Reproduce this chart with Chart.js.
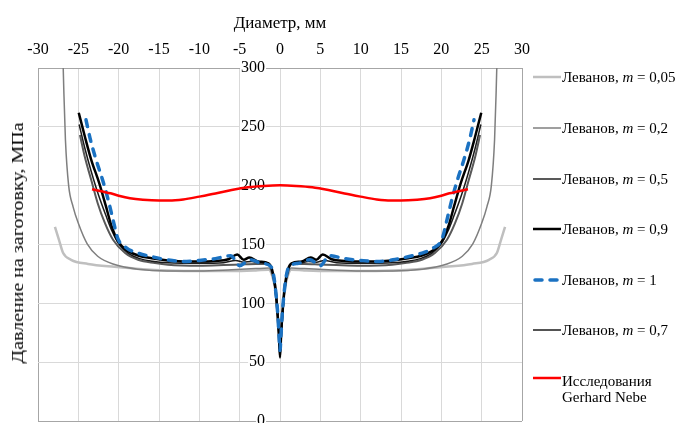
<!DOCTYPE html>
<html>
<head>
<meta charset="utf-8">
<script src="https://cdn.jsdelivr.net/npm/chart.js@4.4.1/dist/chart.umd.min.js"></script>
<style>
body { margin: 0; background: #fff; }
#wrap { position: relative; width: 684px; height: 423px; overflow: hidden; font-family: "Liberation Serif", "Times New Roman", serif; color: #000; }
#c { position: absolute; left: 0; top: 0; }
#yTitle { position: absolute; left: 18px; top: 243px; transform: translate(-50%, -50%) rotate(-90deg) scaleX(1.25); white-space: nowrap; font-size: 16px; }
.leg { position: absolute; left: 533px; height: 16px; font-size: 15px; line-height: 16px; white-space: nowrap; }
.leg svg { position: absolute; left: 0; top: 3px; }
.leg span { position: absolute; left: 29px; top: 0; }
</style>
</head>
<body>
<div id="wrap">
  <canvas id="c" width="684" height="423"></canvas>
  <div id="yTitle">Давление на заготовку, МПа</div>
</div>
<script>
var xTitle = "Диаметр, мм";
var mValues = ["0,05", "0,2", "0,5", "0,9", "1", "0,7"];
var nebeLabel = ["Исследования", "Gerhard Nebe"];

// Леванов, m = 0,05
var x005 = [-27.9, -27.4, -26.9, -25.9, -23.8, -20.5, -17, -14, -10, -6, -3, -1.4, -1, -0.6, -0.35, -0.15, 0,
    0.15, 0.35, 0.6, 1, 1.4, 3, 6, 10, 14, 17, 20.5, 23.8, 25.9, 26.9, 27.4, 27.9];
var y005 = [165, 154, 143, 137, 133.5, 131, 129, 128, 127.5, 127.5, 128, 128.5, 124, 112, 95, 76, 60,
    76, 95, 112, 124, 128.5, 128, 127.5, 127.5, 128, 129, 131, 133.5, 137, 143, 154, 165];

// Леванов, m = 0,2
var x02 = [-26.95, -26.8, -26.6, -26.2, -25.65, -25, -23.9, -22.6, -20.5, -17.6, -14, -10, -6, -3, -1.4, -1, -0.6, -0.35, -0.15, 0,
    0.15, 0.35, 0.6, 1, 1.4, 3, 6, 10, 14, 17.6, 20.5, 22.6, 23.9, 25, 25.65, 26.2, 26.6, 26.8, 26.95];
var y02 = [320, 281, 239, 200, 182, 168, 150.5, 140, 133, 129, 127.5, 127.5, 128.5, 129.5, 130, 125, 112, 95, 75, 57,
    75, 95, 112, 125, 130, 129.5, 128.5, 127.5, 127.5, 129, 133, 140, 150.5, 168, 182, 200, 239, 281, 320];

// Леванов, m = 0,5
var x05 = [-24.8, -24.2, -23.4, -22.6, -21.7, -20.7, -19.2, -17.6, -15.5, -13.9, -10, -7, -5, -3, -1.4, -1, -0.6, -0.35, -0.15, 0,
    0.15, 0.35, 0.6, 1, 1.4, 3, 5, 7, 10, 13.9, 15.5, 17.6, 19.2, 20.7, 21.7, 22.6, 23.4, 24.2, 24.8];
var y05 = [243, 224.6, 204.8, 185.1, 168.1, 154, 142.7, 137, 134.2, 132.8, 132, 132.5, 133, 133.5, 133.5, 127, 113, 95, 75, 56,
    75, 95, 113, 127, 133.5, 133.5, 133, 132.5, 132, 132.8, 134.2, 137, 142.7, 154, 168.1, 185.1, 204.8, 224.6, 243];

// Леванов, m = 0,9
var x09 = [-24.95, -24.2, -23.4, -22.4, -21.6, -20.9, -20.1, -19.1, -17.6, -15.9, -13.9, -10, -8, -6.4, -5.3, -4.5, -3.8, -2.7, -1.45, -1, -0.6, -0.35, -0.15, 0,
    0.15, 0.35, 0.6, 1, 1.45, 2.7, 3.8, 4.5, 5.3, 6.4, 8, 10, 13.9, 15.9, 17.6, 19.1, 20.1, 20.9, 21.6, 22.4, 23.4, 24.2, 24.95];
var y09 = [262, 242, 222, 202, 183, 166, 153, 145.5, 140.7, 138.3, 136.5, 135.5, 136, 137.5, 141.5, 137, 139, 135.6, 134, 129, 115, 96, 75, 54,
    75, 96, 115, 129, 134, 135.6, 139, 137, 141.5, 137.5, 136, 135.5, 136.5, 138.3, 140.7, 145.5, 153, 166, 183, 202, 222, 242, 262];

// Леванов, m = 1
var x1 = [-24.05, -23.5, -22.8, -22, -21.3, -20.7, -20.1, -19, -17.6, -16, -14, -12, -10, -8, -6.1, -5, -3.7, -2.3, -1.1, -0.75, -0.45, -0.25, -0.1, 0,
    0.1, 0.25, 0.45, 0.75, 1.1, 2.3, 3.7, 5, 6.1, 8, 10, 12, 14, 16, 17.6, 19, 20.1, 20.7, 21.3, 22, 22.8, 23.5, 24.05];
var y1 = [256, 239, 222, 205, 188, 171, 155, 147, 142.7, 139.8, 137, 135.6, 136.5, 138, 140.5, 132, 137, 134, 131, 122, 105, 88, 70, 60,
    70, 88, 105, 122, 131, 134, 137, 132, 140.5, 138, 136.5, 135.6, 137, 139.8, 142.7, 147, 155, 171, 188, 205, 222, 239, 256];

// Леванов, m = 0,7
var x07 = [-24.9, -24.2, -23.4, -22.5, -21.6, -20.8, -20, -18.8, -17.4, -15.8, -13.9, -10, -7, -5.5, -4.5, -3.5, -2.5, -1.4, -1, -0.6, -0.35, -0.15, 0,
    0.15, 0.35, 0.6, 1, 1.4, 2.5, 3.5, 4.5, 5.5, 7, 10, 13.9, 15.8, 17.4, 18.8, 20, 20.8, 21.6, 22.5, 23.4, 24.2, 24.9];
var y07 = [252, 232, 212, 192, 175, 161, 150.5, 142.5, 138, 135.8, 134.5, 134, 134.5, 136.5, 135, 135.5, 134.5, 134, 128, 114, 96, 75, 55,
    75, 96, 114, 128, 134, 134.5, 135.5, 135, 136.5, 134.5, 134, 134.5, 135.8, 138, 142.5, 150.5, 161, 175, 192, 212, 232, 252];

// Исследования Gerhard Nebe
var xNebe = [-23.3, -22, -21, -20, -18.6, -17, -15, -13, -12, -10, -8, -6, -5, -4, -2, 0,
    2, 4, 5, 6, 8, 10, 12, 13, 15, 17, 18.6, 20, 21, 22, 23.3];
var yNebe = [197, 195, 193.5, 191.5, 189.3, 188, 187.3, 187.6, 188.3, 190.7, 193.3, 196.3, 197.6, 198.7, 199.8, 200.3,
    199.8, 198.7, 197.6, 196.3, 193.3, 190.7, 188.3, 187.6, 187.3, 188, 189.3, 191.5, 193.5, 195, 197];

var serif = "'Liberation Serif', 'Times New Roman', serif";

function pts(xs, ys) {
    return xs.map(function (x, i) { return { x: x, y: ys[i] }; });
}

function makeSet(label, xs, ys, color, width, dash, order) {
    return {
        label: label,
        data: pts(xs, ys),
        borderColor: color,
        backgroundColor: color,
        borderWidth: width,
        borderDash: dash,
        borderCapStyle: dash.length ? 'round' : 'butt',
        pointRadius: 0,
        fill: false,
        order: order
    };
}

var datasets = [
    makeSet("Леванов, m = " + mValues[0], x005, y005, "#bfbfbf", 2.5, [], 6),
    makeSet("Леванов, m = " + mValues[1], x02, y02, "#7f7f7f", 1.5, [], 5),
    makeSet("Леванов, m = " + mValues[2], x05, y05, "#595959", 2, [], 4),
    makeSet("Леванов, m = " + mValues[3], x09, y09, "#000000", 2.5, [], 2),
    makeSet("Леванов, m = " + mValues[4], x1, y1, "#1b72c2", 3.5, [7, 8], 1),
    makeSet("Леванов, m = " + mValues[5], x07, y07, "#1a1a1a", 1.5, [], 3),
    makeSet(nebeLabel.join(" "), xNebe, yNebe, "#ff0000", 2.5, [], 0)
];

function gridColor(edges) {
    return function (ctx) {
        return edges.indexOf(ctx.tick && ctx.tick.value) >= 0 ? '#a6a6a6' : '#d9d9d9';
    };
}

var myChart = new Chart(document.getElementById('c'), {
    type: 'line',
    data: { datasets: datasets },
    options: {
        responsive: false,
        animation: false,
        devicePixelRatio: 1,
        layout: { padding: { left: 38, right: 162, top: 0, bottom: 2 } },
        plugins: { legend: { display: false }, tooltip: { enabled: false } },
        elements: { line: { cubicInterpolationMode: 'monotone' } },
        scales: {
            x: {
                type: 'linear',
                position: 'top',
                min: -30,
                max: 30,
                ticks: { stepSize: 5, color: '#000', font: { family: serif, size: 16 }, padding: 9 },
                grid: { color: gridColor([-30, 30]), drawTicks: false },
                border: { display: false },
                title: { display: true, text: xTitle, color: '#000', font: { family: serif, size: 17 }, padding: { top: 13, bottom: 0 } },
                afterFit: function (scale) { scale.height = 68; }
            },
            y: {
                type: 'linear',
                // labels sit just left of the zero line (centre axis draws them flush otherwise)
                position: { x: -1.85 },
                min: 0,
                max: 300,
                ticks: {
                    stepSize: 50, color: '#000', font: { family: serif, size: 16 },
                    showLabelBackdrop: true, backdropColor: '#fff', backdropPadding: 1
                },
                grid: { color: gridColor([0, 300]), drawTicks: false },
                border: { display: false },
                afterFit: function (scale) { scale.paddingTop = 0; scale.paddingBottom = 0; }
            }
        }
    }
});

// legend on the right, built from the same styles as the datasets
var legendY = [77, 128, 179, 229, 280, 330, 378];
var wrap = document.getElementById('wrap');
datasets.forEach(function (ds, i) {
    var item = document.createElement('div');
    item.className = 'leg';
    item.style.top = (legendY[i] - 8) + 'px';
    var dash = ds.borderDash.length ? ' stroke-dasharray="' + ds.borderDash.join(',') + '" stroke-linecap="round"' : '';
    var text = i < mValues.length
        ? 'Леванов, <i>m</i> = ' + mValues[i]
        : nebeLabel.join('<br>');
    item.innerHTML = '<svg width="28" height="10"><line x1="' + (dash ? 2 : 0) + '" y1="5" x2="' + (dash ? 26 : 28) + '" y2="5" stroke="' +
        ds.borderColor + '" stroke-width="' + ds.borderWidth + '"' + dash + '></line></svg><span>' + text + '</span>';
    if (i >= mValues.length) item.querySelector('span').style.top = '3px';
    wrap.appendChild(item);
});
</script>
</body>
</html>
